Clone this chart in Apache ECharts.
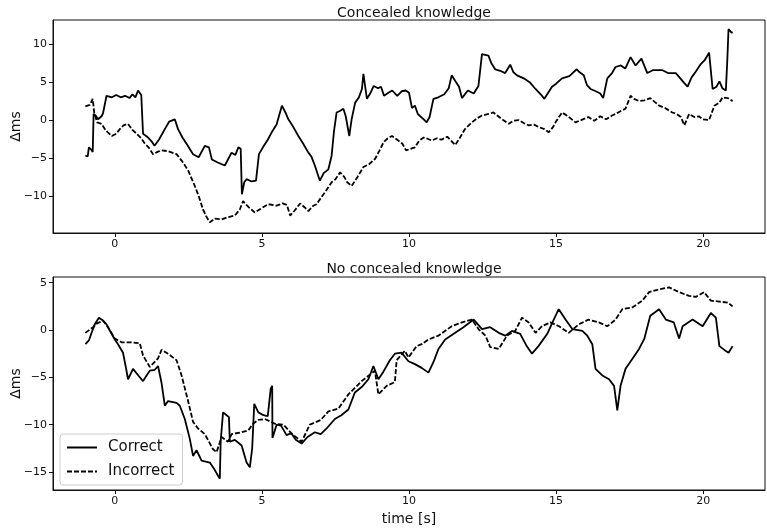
<!DOCTYPE html>
<html>
<head>
<meta charset="utf-8">
<script src="https://cdn.jsdelivr.net/npm/echarts@6/dist/echarts.min.js"></script>
<style>
  html, body { margin: 0; padding: 0; background: #fff; }
  #chart { width: 767px; height: 531px; }
</style>
</head>
<body>
<div id="chart"></div>
<script>
// [time (s), delta ms]
const topCorrect = [[-1.0,-4.7],[-0.92,-4.8],[-0.88,-3.6],[-0.8,-3.9],[-0.75,-4.2],[-0.72,0.8],[-0.65,0.6],[-0.57,0.1],[-0.45,0.5],[-0.4,0.9],[-0.28,3.2],[-0.1,3.0],[0.05,3.3],[0.2,3.0],[0.35,3.2],[0.5,2.9],[0.6,3.4],[0.7,3.0],[0.79,3.9],[0.9,3.3],[0.96,-1.8],[1.1,-2.2],[1.25,-2.8],[1.35,-3.4],[1.5,-2.6],[1.7,-1.2],[1.85,-0.2],[2.04,0.1],[2.15,-1.2],[2.3,-2.3],[2.45,-3.2],[2.66,-4.5],[2.85,-4.9],[3.06,-3.4],[3.2,-3.6],[3.3,-5.2],[3.5,-5.6],[3.74,-6.0],[3.97,-4.3],[4.1,-4.6],[4.2,-3.6],[4.28,-3.8],[4.32,-9.8],[4.4,-8.2],[4.48,-7.8],[4.65,-8.1],[4.8,-8.0],[4.86,-8.2],[4.9,-4.5],[5.05,-3.5],[5.2,-2.6],[5.35,-1.5],[5.5,-0.6],[5.6,0.8],[5.68,1.9],[5.8,1.0],[5.9,0.1],[6.05,-0.8],[6.24,-2.1],[6.4,-3.1],[6.58,-4.3],[6.68,-4.8],[6.8,-6.0],[6.97,-8.0],[7.1,-7.0],[7.26,-6.5],[7.37,-4.7],[7.45,-1.5],[7.54,1.0],[7.65,1.2],[7.77,1.5],[7.85,0.5],[7.97,-2.1],[8.05,0.1],[8.17,2.3],[8.3,3.0],[8.4,4.1],[8.45,6.1],[8.57,2.8],[8.68,3.5],[8.8,4.5],[8.95,4.2],[9.05,4.4],[9.15,3.2],[9.3,3.6],[9.43,3.9],[9.6,3.2],[9.75,3.8],[9.89,3.9],[10.0,3.6],[10.1,1.6],[10.2,1.9],[10.3,0.8],[10.5,0.1],[10.6,-0.3],[10.7,0.4],[10.83,2.8],[11.0,3.0],[11.2,3.4],[11.35,4.2],[11.45,5.9],[11.6,5.0],[11.7,4.4],[11.8,2.9],[12.0,3.9],[12.2,3.5],[12.36,4.5],[12.48,8.7],[12.7,8.5],[12.8,7.5],[12.93,6.7],[13.1,6.5],[13.27,6.2],[13.44,7.3],[13.55,6.3],[13.67,5.9],[13.9,5.5],[14.1,5.0],[14.3,4.1],[14.5,3.3],[14.6,2.8],[14.86,4.4],[15.0,4.8],[15.2,5.5],[15.45,5.8],[15.7,6.7],[15.8,6.3],[15.94,5.9],[16.05,4.6],[16.17,4.1],[16.35,3.8],[16.5,3.5],[16.6,2.9],[16.74,5.5],[16.9,6.2],[17.02,7.0],[17.2,7.2],[17.35,6.8],[17.53,8.3],[17.7,7.2],[17.9,8.1],[18.1,6.2],[18.3,6.6],[18.6,6.6],[18.8,6.2],[19.07,6.2],[19.2,5.6],[19.35,4.9],[19.47,4.4],[19.6,5.6],[19.75,6.4],[19.9,7.3],[20.05,7.9],[20.2,8.9],[20.32,4.1],[20.45,4.4],[20.55,5.1],[20.65,4.2],[20.77,3.9],[20.82,8.0],[20.86,12.0],[20.95,11.6],[21.0,11.5]];

const topIncorrect = [[-1.0,1.8],[-0.85,2.0],[-0.75,2.8],[-0.7,1.0],[-0.6,-0.3],[-0.45,-0.5],[-0.3,-1.4],[-0.1,-2.1],[0.05,-1.8],[0.17,-1.2],[0.3,-0.7],[0.45,-0.5],[0.6,-1.3],[0.74,-1.8],[0.9,-2.4],[1.02,-3.1],[1.15,-3.6],[1.3,-4.5],[1.45,-4.2],[1.59,-4.0],[1.8,-4.1],[2.1,-4.5],[2.32,-5.6],[2.5,-6.7],[2.72,-8.7],[2.85,-10.0],[3.0,-11.8],[3.12,-12.8],[3.23,-13.5],[3.4,-13.0],[3.63,-13.1],[3.85,-12.8],[4.08,-12.6],[4.25,-11.8],[4.36,-10.7],[4.55,-11.5],[4.76,-12.2],[5.0,-11.6],[5.22,-11.1],[5.5,-11.3],[5.7,-11.0],[5.85,-11.2],[5.96,-12.6],[6.1,-12.0],[6.3,-11.0],[6.45,-11.5],[6.58,-12.0],[6.75,-11.3],[6.86,-11.1],[7.0,-10.3],[7.15,-9.5],[7.37,-8.2],[7.5,-7.8],[7.66,-6.9],[7.8,-7.5],[7.9,-8.2],[8.05,-8.7],[8.25,-7.5],[8.45,-6.2],[8.65,-5.8],[8.85,-5.1],[9.0,-4.0],[9.14,-2.9],[9.28,-2.4],[9.42,-2.1],[9.6,-2.6],[9.77,-3.1],[9.9,-4.0],[10.05,-3.8],[10.2,-3.6],[10.35,-2.7],[10.5,-2.3],[10.65,-2.5],[10.77,-2.7],[10.95,-2.4],[11.1,-2.6],[11.3,-2.2],[11.45,-2.8],[11.57,-3.3],[11.75,-2.2],[11.9,-1.2],[12.14,-0.3],[12.3,0.2],[12.48,0.6],[12.7,0.8],[12.87,1.0],[13.0,0.6],[13.16,0.1],[13.39,-0.5],[13.55,-0.1],[13.73,0.0],[13.9,-0.4],[14.07,-0.7],[14.25,-0.6],[14.4,-0.9],[14.6,-1.2],[14.75,-1.6],[14.9,-0.9],[14.98,-0.3],[15.2,1.0],[15.4,0.5],[15.66,-0.3],[15.85,0.0],[16.1,0.4],[16.3,-0.1],[16.5,0.5],[16.7,0.1],[16.9,0.6],[17.02,0.8],[17.2,1.2],[17.36,1.5],[17.53,3.2],[17.65,2.8],[17.82,2.5],[18.0,2.6],[18.2,2.9],[18.35,2.4],[18.5,1.9],[18.7,1.6],[18.95,1.0],[19.1,0.8],[19.24,0.4],[19.36,-0.7],[19.52,0.8],[19.7,0.4],[19.85,0.5],[19.98,0.1],[20.2,0.0],[20.38,1.9],[20.55,2.3],[20.66,3.0],[20.83,2.9],[21.0,2.5]];

const bottomCorrect = [[-1.0,-1.5],[-0.96,-1.7],[-0.88,-1.1],[-0.8,-0.4],[-0.68,0.6],[-0.54,1.3],[-0.4,1.0],[-0.28,0.6],[-0.11,-0.4],[0.0,-1.0],[0.11,-1.5],[0.28,-2.4],[0.38,-4.0],[0.45,-5.2],[0.62,-4.1],[0.8,-4.8],[0.96,-5.4],[1.08,-4.8],[1.19,-4.3],[1.36,-4.2],[1.47,-3.8],[1.59,-5.6],[1.7,-8.0],[1.81,-7.5],[2.1,-7.7],[2.21,-8.0],[2.38,-9.4],[2.55,-11.5],[2.66,-13.3],[2.78,-12.7],[2.95,-13.8],[3.23,-14.0],[3.4,-14.8],[3.51,-15.4],[3.57,-15.7],[3.6,-11.7],[3.68,-8.7],[3.8,-9.0],[3.88,-9.2],[3.91,-11.8],[4.08,-11.6],[4.31,-12.2],[4.48,-14.0],[4.59,-14.5],[4.67,-12.5],[4.74,-7.8],[4.88,-8.7],[5.05,-9.0],[5.2,-9.1],[5.3,-6.2],[5.35,-5.9],[5.36,-11.4],[5.5,-10.0],[5.65,-10.1],[5.84,-11.1],[6.0,-10.9],[6.15,-11.6],[6.35,-12.0],[6.55,-11.3],[6.8,-10.8],[7.0,-11.0],[7.2,-10.4],[7.48,-9.4],[7.7,-9.0],[7.94,-8.4],[8.16,-6.6],[8.4,-6.0],[8.62,-5.2],[8.79,-3.8],[8.96,-5.2],[9.13,-4.4],[9.35,-3.2],[9.52,-2.5],[9.75,-2.4],[9.98,-3.3],[10.2,-3.6],[10.43,-4.0],[10.66,-4.5],[10.83,-3.4],[11.0,-2.0],[11.23,-1.0],[11.57,-0.3],[11.85,0.3],[12.2,1.1],[12.48,0.1],[12.76,0.3],[13.05,-0.3],[13.27,-0.6],[13.5,-0.1],[13.78,-0.4],[14.0,-1.7],[14.18,-2.5],[14.4,-1.7],[14.7,-0.4],[14.92,1.1],[15.09,2.2],[15.32,1.1],[15.55,0.1],[15.89,-0.1],[16.06,-0.6],[16.23,-1.5],[16.34,-4.1],[16.57,-4.8],[16.8,-5.2],[16.97,-5.9],[17.08,-8.5],[17.19,-5.9],[17.36,-4.1],[17.6,-3.0],[17.82,-2.0],[18.0,-0.9],[18.2,1.5],[18.5,2.2],[18.73,1.1],[19.0,0.8],[19.18,-0.9],[19.3,0.4],[19.64,1.1],[19.98,0.4],[20.26,1.8],[20.43,1.3],[20.55,-1.7],[20.72,-2.1],[20.86,-2.4],[21.0,-1.7]];

const bottomIncorrect = [[-1.0,-0.3],[-0.74,0.3],[-0.6,0.7],[-0.4,1.0],[-0.23,0.3],[0.0,-0.9],[0.23,-1.3],[0.57,-1.3],[0.85,-1.4],[0.96,-2.7],[1.19,-3.9],[1.47,-3.0],[1.59,-2.1],[1.81,-2.5],[2.1,-3.2],[2.27,-4.8],[2.5,-7.6],[2.66,-9.7],[2.83,-10.4],[3.06,-11.0],[3.34,-12.6],[3.46,-12.9],[3.63,-11.3],[3.85,-11.8],[3.97,-11.0],[4.31,-10.8],[4.54,-10.6],[4.7,-9.9],[4.88,-9.5],[5.1,-9.4],[5.44,-9.9],[5.73,-10.0],[6.0,-10.9],[6.35,-11.8],[6.63,-10.0],[7.0,-9.5],[7.26,-8.6],[7.6,-8.3],[7.94,-6.8],[8.39,-5.4],[8.84,-4.3],[8.96,-6.8],[9.24,-5.9],[9.52,-5.5],[9.58,-3.2],[9.86,-2.2],[9.98,-2.9],[10.26,-1.7],[10.43,-1.5],[10.66,-1.0],[11.0,-0.6],[11.45,0.4],[11.8,0.8],[12.14,1.1],[12.36,0.1],[12.6,-0.6],[12.76,-1.8],[13.05,-2.0],[13.33,-0.6],[13.61,-0.1],[13.84,1.3],[14.07,0.8],[14.3,-0.3],[14.52,0.4],[14.8,0.8],[15.1,0.4],[15.43,-0.3],[15.77,0.6],[16.1,1.1],[16.45,0.8],[16.74,0.4],[17.02,1.1],[17.25,2.2],[17.6,2.4],[17.93,3.1],[18.16,4.0],[18.5,4.3],[18.84,4.5],[19.18,4.0],[19.52,3.6],[19.75,3.5],[20.03,4.0],[20.26,3.1],[20.55,3.0],[20.83,2.9],[21.0,2.5]];

const xTicks = [0, 5, 10, 15, 20];
const topYTicks = [-10, -5, 0, 5, 10];
const bottomYTicks = [-15, -10, -5, 0, 5];
const titles = ['Concealed knowledge', 'No concealed knowledge'];

const FONT = 'DejaVu Sans';
const INK = '#111';

// matplotlib writes negatives with a real minus sign
const minus = v => String(v).replace('-', '\u2212');

function xAxis(gridIndex, name) {
  return {
    type: 'value', gridIndex, min: -2.1, max: 22.1,
    name: name || '', nameLocation: 'middle', nameGap: 22, nameMoveOverlap: false,
    nameTextStyle: {fontFamily: FONT, fontSize: 14, color: INK},
    axisLine: {show: true, onZero: false, lineStyle: {color: INK}},
    axisTick: {show: true, length: 4, customValues: xTicks, lineStyle: {color: INK}},
    axisLabel: {customValues: xTicks, fontFamily: FONT, fontSize: 11, color: INK, margin: 6, formatter: minus},
    splitLine: {show: false}
  };
}

function yAxis(gridIndex, min, max, ticks) {
  return {
    type: 'value', gridIndex, min, max,
    name: 'Δms', nameLocation: 'middle', nameGap: 30, nameMoveOverlap: false,
    nameTextStyle: {fontFamily: FONT, fontSize: 14, color: INK},
    axisLine: {show: true, onZero: false, lineStyle: {color: INK}},
    axisTick: {show: true, length: 4, customValues: ticks, lineStyle: {color: INK}},
    axisLabel: {customValues: ticks, fontFamily: FONT, fontSize: 11, color: INK, margin: 6, formatter: minus},
    splitLine: {show: false}
  };
}

function line(name, data, idx, dashed) {
  return {
    name, type: 'line', data, xAxisIndex: idx, yAxisIndex: idx,
    symbol: 'none', animation: false,
    lineStyle: {color: '#000', width: 1.8, type: dashed ? [5, 2] : 'solid'},
    itemStyle: {color: '#000'}
  };
}

const chart = echarts.init(document.getElementById('chart'), null, {renderer: 'canvas'});
chart.setOption({
  backgroundColor: '#fff',
  animation: false,
  title: [
    {text: titles[0], left: 409, top: 1, textAlign: 'center',
     textStyle: {fontFamily: FONT, fontSize: 14, fontWeight: 'normal', color: INK}},
    {text: titles[1], left: 409, top: 257, textAlign: 'center',
     textStyle: {fontFamily: FONT, fontSize: 14, fontWeight: 'normal', color: INK}}
  ],
  grid: [
    {left: 53, right: 2, top: 20, height: 213, show: true, borderColor: INK, borderWidth: 1, outerBoundsMode: 'none'},
    {left: 53, right: 2, top: 277, height: 213, show: true, borderColor: INK, borderWidth: 1, outerBoundsMode: 'none'}
  ],
  xAxis: [xAxis(0), xAxis(1, 'time [s]')],
  yAxis: [yAxis(0, -14.9, 13.2, topYTicks), yAxis(1, -16.9, 5.6, bottomYTicks)],
  legend: {
    data: ['Correct', 'Incorrect'],
    orient: 'vertical', left: 60, top: 434,
    itemWidth: 30, itemHeight: 14, itemGap: 9,
    padding: [6, 8, 6, 6],
    borderColor: '#ccc', borderWidth: 1, borderRadius: 3,
    backgroundColor: 'rgba(255,255,255,0.85)',
    itemStyle: {opacity: 0},
    textStyle: {fontFamily: FONT, fontSize: 15, color: INK, padding: [0, 0, 0, 6]}
  },
  series: [
    line('Correct', topCorrect, 0, false),
    line('Incorrect', topIncorrect, 0, true),
    line('Correct', bottomCorrect, 1, false),
    line('Incorrect', bottomIncorrect, 1, true)
  ]
});
</script>
</body>
</html>
